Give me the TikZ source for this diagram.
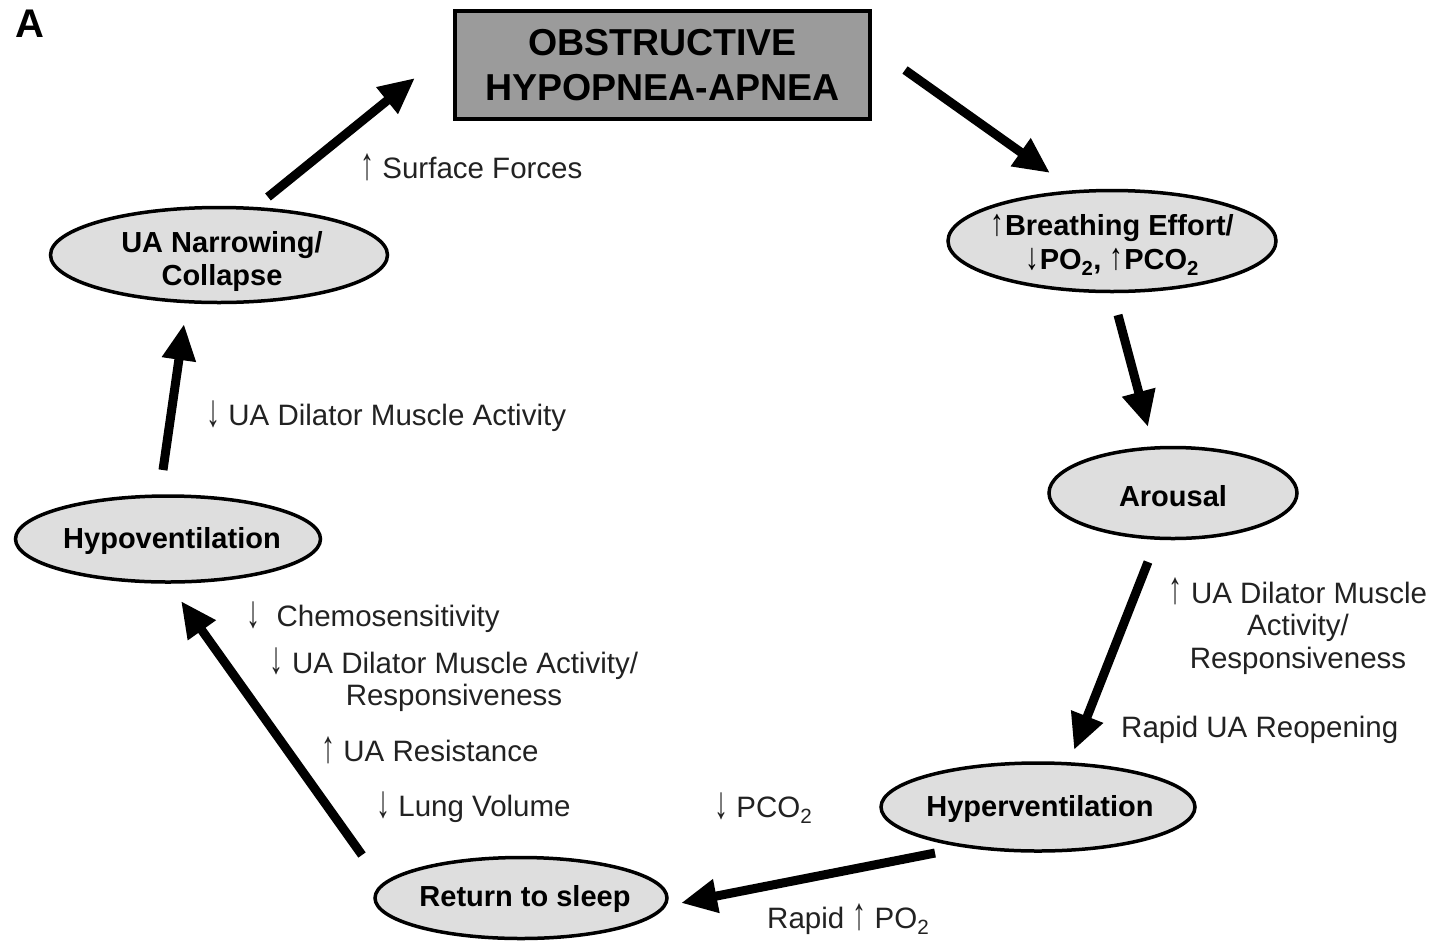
\documentclass[tikz,border=0pt]{standalone}
\usepackage{fontspec}
\setmainfont{Liberation Sans}
\usetikzlibrary{shapes.geometric,arrows.meta}
\definecolor{ellfill}{HTML}{DEDEDE}
\definecolor{boxfill}{HTML}{9B9B9B}
\definecolor{labtxt}{HTML}{222222}
\newcommand{\upar}{\raisebox{-0.5pt}{\scalebox{0.95}[1.55]{↑}}}
\newcommand{\dnar}{\raisebox{-0.5pt}{\scalebox{0.95}[1.55]{↓}}}
\newcommand{\upsm}{\scalebox{0.95}[1.3]{↑}\kern1pt}
\newcommand{\dnsm}{\scalebox{0.95}[1.3]{↓}\kern1pt}
\tikzset{
  ell/.style={ellipse, draw=black, line width=3.5pt, fill=ellfill, inner sep=0pt},
  elltxt/.style={inner sep=0pt, align=center, font=\fontsize{29}{33}\selectfont\bfseries},
  lab/.style={text=labtxt, font=\fontsize{29.5}{32.5}\selectfont, inner sep=0pt},
  flow/.style={line width=9pt, -{Triangle[length=36pt,width=32pt]}},
}
\begin{document}
\begin{tikzpicture}[x=1pt,y=-1pt]
\useasboundingbox (0,0) rectangle (1432,943);
\node[font=\fontsize{40}{40}\selectfont\bfseries, anchor=center] (lbl) at (30,24) {A};
\node[draw=black, line width=4pt, fill=boxfill, minimum width=415pt, minimum height=108pt,
  align=center, font=\fontsize{37.5}{45}\selectfont\bfseries] (box) at (662.5,65) {OBSTRUCTIVE\\HYPOPNEA-APNEA};
\node[ell, minimum width=328pt, minimum height=101pt] (breath) at (1112,241) {};
\node[elltxt, font=\fontsize{29}{34}\selectfont\bfseries] (breath-t) at (1112,245) {\upsm Breathing Effort/\\\dnsm PO\textsubscript{2}, \upsm PCO\textsubscript{2}};
\node[ell, minimum width=248pt, minimum height=91pt] (arousal) at (1173,493) {};
\node[elltxt] (arousal-t) at (1173,496) {Arousal};
\node[ell, minimum width=314pt, minimum height=88pt] (hyper) at (1038,807) {};
\node[elltxt] (hyper-t) at (1040,809) {Hyperventilation};
\node[ell, minimum width=292pt, minimum height=81pt] (sleep) at (521,898) {};
\node[elltxt] (sleep-t) at (525,899) {Return to sleep};
\node[ell, minimum width=305pt, minimum height=86pt] (hypo) at (168,539) {};
\node[elltxt] (hypo-t) at (172,541) {Hypoventilation};
\node[ell, minimum width=337pt, minimum height=95pt] (narrow) at (219,255) {};
\node[elltxt] (narrow-t) at (222,261) {UA Narrowing/\\Collapse};

\coordinate (a1s) at (268,197); \coordinate (a1e) at (415,78);
\coordinate (a2s) at (905,70);  \coordinate (a2e) at (1050,173);
\coordinate (a3s) at (1118,315); \coordinate (a3e) at (1148,427);
\coordinate (a4s) at (1148,562); \coordinate (a4e) at (1074,750);
\coordinate (a5s) at (935,853); \coordinate (a5e) at (681,903);
\coordinate (a6s) at (362,855); \coordinate (a6e) at (181,601);
\coordinate (a7s) at (163,470); \coordinate (a7e) at (184,324);
\draw[flow] (a1s) -- (a1e);
\draw[flow] (a2s) -- (a2e);
\draw[flow] (a3s) -- (a3e);
\draw[flow] (a4s) -- (a4e);
\draw[flow] (a5s) -- (a5e);
\draw[flow] (a6s) -- (a6e);
\draw[flow] (a7s) -- (a7e);

\node[lab, anchor=west] (l1) at (360,167) {\upar\ Surface Forces};
\node[lab, anchor=west] (l2) at (206,416) {\dnar\ UA Dilator Muscle Activity};
\node[lab, anchor=west] (l3) at (246,617) {\dnar\ \ Chemosensitivity};
\node[lab, align=center] (l4) at (454,680) {\dnar\ UA Dilator Muscle Activity/\\Responsiveness};
\node[lab, anchor=west] (l5) at (321,750) {\upar\ UA Resistance};
\node[lab, anchor=west] (l6) at (376,807) {\dnar\ Lung Volume};
\node[lab, anchor=west] (l7) at (714,808) {\dnar\ PCO\textsubscript{2}};
\node[lab, anchor=west] (l8) at (767,919) {Rapid \upar\ PO\textsubscript{2}};
\node[lab, align=center] (l9) at (1298,626) {\upar\ UA Dilator Muscle\\Activity/\\Responsiveness};
\node[lab, anchor=west] (l10) at (1121,730) {Rapid UA Reopening};
\end{tikzpicture}
\end{document}
